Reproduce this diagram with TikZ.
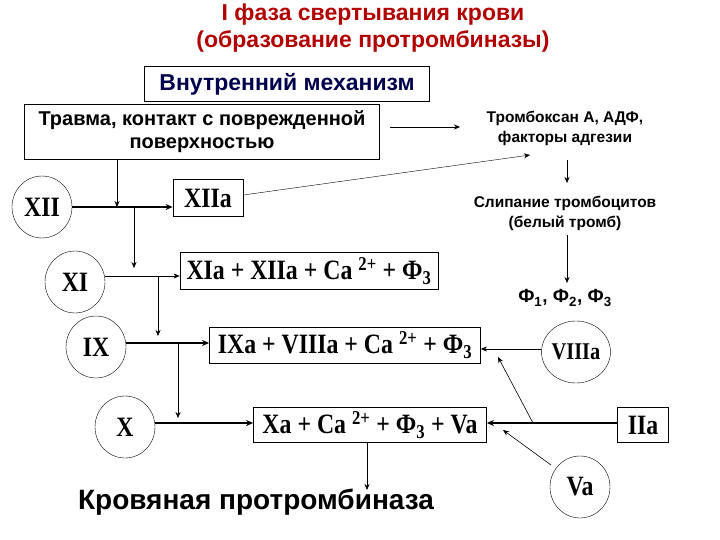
\documentclass[tikz,border=0pt]{standalone}
\usepackage{fontspec}
\setmainfont{Liberation Serif}[FakeStretch=0.85]
\newfontfamily\ssf{Liberation Sans}
\usetikzlibrary{shapes.geometric,arrows.meta}
\begin{document}
\begin{tikzpicture}[x=1pt,y=-1pt,
  bx/.style={draw,thick,inner sep=0pt},
  circ/.style={draw,ellipse,minimum width=60pt,minimum height=62pt,inner sep=0pt,font=\fontsize{28}{28}\selectfont\bfseries},
  fac/.style={font=\fontsize{28}{28}\selectfont\bfseries},
  ru/.style={font=\ssf\bfseries\fontsize{15.5}{20}\selectfont,align=center},
  ar/.style={-{Stealth[length=6pt,width=5pt]},thin},
  tar/.style={-{Stealth[length=7pt,width=6pt]},line width=1.6pt}]
\useasboundingbox (0,0) rectangle (720,540);
\node[font=\ssf\bfseries\fontsize{23}{27}\selectfont,text=red!70!black,align=center] (title) at (373,28) {I фаза свертывания крови\\(образование протромбиназы)};
\node[bx,minimum width=285pt,minimum height=35pt,font=\ssf\bfseries\fontsize{23}{23}\selectfont,text=blue!30!black] (vm) at (287,84) {Внутренний механизм};
\node[bx,minimum width=355pt,minimum height=55pt,font=\ssf\bfseries\fontsize{20}{23}\selectfont,align=center] (tr) at (202,132) {Травма, контакт с поврежденной\\поверхностью};
\node[ru] (tb) at (565,128) {Тромбоксан А, АДФ,\\факторы адгезии};
\node[ru] (sl) at (565,213) {Слипание тромбоцитов\\(белый тромб)};
\node[font=\ssf\bfseries\fontsize{19}{19}\selectfont] (ff) at (565,298) {Ф\textsubscript{1}, Ф\textsubscript{2}, Ф\textsubscript{3}};
\node[circ] (c12) at (42,207) {XII};
\node[bx,fac,minimum width=70pt,minimum height=37pt] (b12) at (208,198) {XIIa};
\node[circ] (c11) at (75,282) {XI};
\node[bx,fac,minimum width=258pt,minimum height=37pt] (b11) at (309,271) {XIa + XIIa + Ca \textsuperscript{2+} + Ф\textsubscript{3}};
\node[circ] (c9) at (96,347) {IX};
\node[bx,fac,minimum width=271pt,minimum height=36pt] (b9) at (345,345) {IXa + VIIIa + Ca \textsuperscript{2+} + Ф\textsubscript{3}};
\node[circ,font=\fontsize{24}{24}\selectfont\bfseries] (c8) at (576,352) {VIIIa};
\node[circ] (c10) at (125,427) {X};
\node[bx,fac,minimum width=233pt,minimum height=35pt] (b10) at (370,425) {Xa + Ca \textsuperscript{2+} + Ф\textsubscript{3} + Va};
\node[bx,fac,minimum width=51pt,minimum height=35pt] (b2) at (643,425) {IIa};
\node[circ] (c5) at (580,487) {Va};
\node[font=\ssf\bfseries\fontsize{28}{28}\selectfont] (kp) at (256,502) {Кровяная протромбиназа};
\coordinate (j1) at (117,207);
\coordinate (j2) at (134,207);
\coordinate (j3) at (158,276);
\coordinate (j4) at (178,343);
\coordinate (j5) at (533,423);
\draw[ar] (390,127) -- (460,127);
\draw[ar] (b12.east) ++(0,-3) -- (530,155);
\draw[ar] (567,160) -- (567,183);
\draw[ar] (567,235) -- (567,283);
\draw[tar] (c12.east |- 0,207) -- (b12.west |- 0,207);
\draw[ar] (tr.south -| j1) -- (j1);
\draw[ar] (j2) -- (134,268);
\draw[ar] (c11.east |- 0,276) -- (b11.west |- 0,276);
\draw[ar] (j3) -- (158,336);
\draw[tar] (c9.east |- 0,343) -- (b9.west |- 0,343);
\draw[ar] (j4) -- (178,418);
\draw[tar] (c10.east |- 0,423) -- (b10.west |- 0,423);
\draw[ar] (c8.west |- 0,349) -- (b9.east |- 0,349);
\draw[tar] (b2.west |- 0,423) -- (b10.east |- 0,423);
\draw[ar,semithick] (j5) -- (498,357);
\draw[ar,semithick] (551,465) -- (503,430);
\draw[ar] (b10.south -| 367,0) -- (367,490);
\end{tikzpicture}
\end{document}
